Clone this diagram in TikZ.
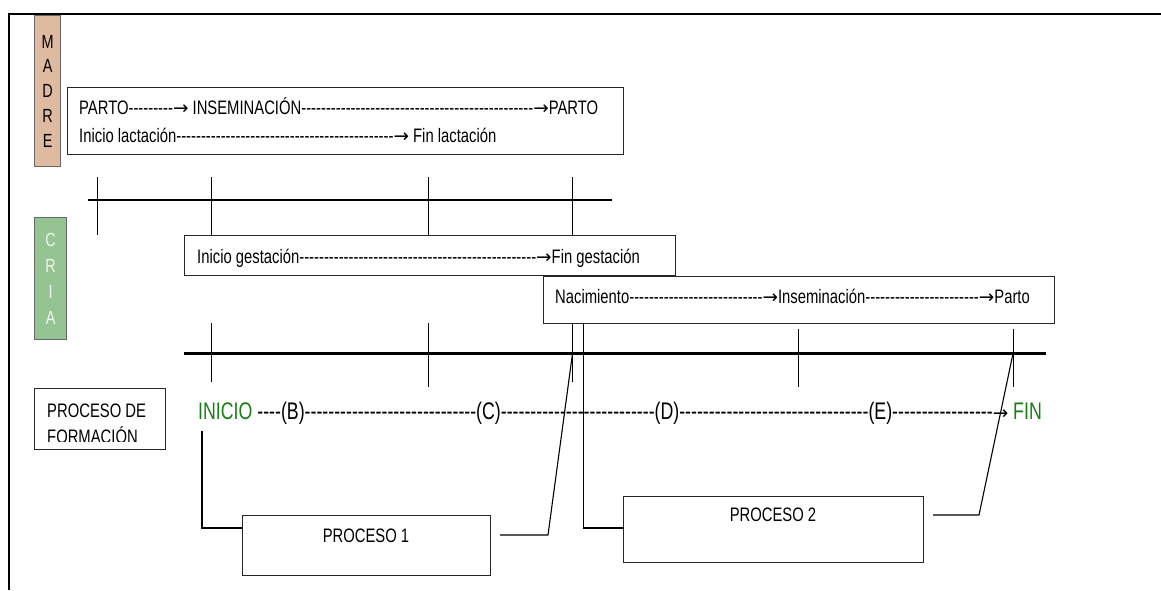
\documentclass[tikz,border=0pt]{standalone}
\usepackage{fontspec}
\setmainfont{Liberation Sans}[FakeStretch=0.76, Ligatures=TeXOff]
\newfontfamily\procfont{Liberation Sans}[FakeStretch=0.74, Ligatures=TeXOff]
\newfontfamily\arrowfont{DejaVu Sans}
\newcommand{\ra}{{\arrowfont\fontsize{18.5pt}{22pt}\selectfont →}}
\definecolor{madrebrown}{RGB}{222,186,160}
\definecolor{criagreen}{RGB}{148,196,146}
\definecolor{markgreen}{RGB}{25,125,25}

\begin{document}
\begin{tikzpicture}[x=1pt,y=-1pt,
  txt/.style={anchor=base west, inner sep=0pt, font=\fontsize{19.5pt}{28pt}\selectfont},
  box/.style={draw=black!85, line width=1.1pt, anchor=north west, inner sep=0pt},
  bar/.style={draw=black!60, line width=1.2pt, anchor=north west, inner sep=0pt, align=center},
  timeline/.style={line width=2.6pt},
  tickmark/.style={line width=1pt},
  conn/.style={line width=1.1pt},
  frame/.style={line width=2.4pt}]
\useasboundingbox (0,0) rectangle (1161,590);

% outer frame (top and left edges)
\coordinate (fTL) at (9,14);
\coordinate (fTR) at (1161,14);
\coordinate (fBL) at (9,590);
\draw[frame] (fTR) -- (fTL) -- (fBL);

% side labels
\node[bar, fill=madrebrown, minimum width=26pt, minimum height=151pt,
      font=\fontsize{19pt}{24.75pt}\selectfont] (madre) at (34,15) {M\\A\\D\\R\\E};
\node[bar, fill=criagreen, text=black!5, minimum width=32pt, minimum height=122pt,
      font=\fontsize{19pt}{26pt}\selectfont] (cria) at (34,217) {C\\R\\I\\A};

% boxes
\node[box, minimum width=556pt, minimum height=67pt] (madrebox) at (67,87) {};
\node[box, minimum width=491pt, minimum height=40pt] (gest) at (184,235) {};
\node[box, minimum width=511pt, minimum height=47pt] (nac) at (543,276) {};
\node[box, minimum width=131pt, minimum height=61pt] (forma) at (34,388) {};
\node[box, minimum width=248pt, minimum height=60pt] (p1) at (242,515) {};
\node[box, minimum width=300pt, minimum height=66pt] (p2) at (623,496) {};

% texts of the boxes
\node[txt] (l1) at (79,114) {PARTO---------\ra{} INSEMINACIÓN-----------------------------------------------\ra PARTO};
\node[txt] (l2) at (79,142) {Inicio lactación--------------------------------------------\ra{} Fin lactación};
\node[txt] (g1) at (197,263) {Inicio gestación------------------------------------------------\ra Fin gestación};
\node[txt] (n1) at (555,303) {Nacimiento---------------------------\ra Inseminación-----------------------\ra Parto};
\node[txt, font=\procfont\fontsize{24pt}{28pt}\selectfont] (tl) at (198,419)
  {\textcolor{markgreen}{INICIO} ----(B)-----------------------------(C)--------------------------(D)--------------------------------(E)-----------------\ra{} \textcolor{markgreen}{FIN}};
\node[txt, anchor=base] (p1txt) at (366,542) {PROCESO 1};
\node[txt, anchor=base] (p2txt) at (773,521.5) {PROCESO 2};
\begin{scope}
  \clip (34,388) rectangle (165,441.5);
  \node[txt] (f1) at (47,417) {PROCESO DE};
  \node[txt] (f2) at (47,443) {FORMACIÓN};
\end{scope}

% time lines
\coordinate (ma) at (88,200);
\coordinate (mb) at (612,200);
\draw[timeline] (ma) -- (mb);
\coordinate (ca) at (184,353.5);
\coordinate (cb) at (1046,353.5);
\draw[timeline] (ca) -- (cb);

% tick marks
\foreach \x/\n in {97/1,211/2,428/3,572/4}
  \draw[tickmark] (\x,177) coordinate (mt\n) -- (\x,235) coordinate (mb\n);
\foreach \x/\n/\t/\b in {211/1/323/382, 428/2/323/386.5, 572.5/3/323/382, 798/4/329/386.5, 1013/5/329/386.5}
  \draw[tickmark] (\x,\t) coordinate (ct\n) -- (\x,\b) coordinate (cb\n);

% connectors to the process boxes
\coordinate (inicioDrop) at (202,431);
\coordinate (p1in) at (242,528);
\draw[conn] (inicioDrop) |- (p1in);
\coordinate (p1out) at (500,535);
\coordinate (p1bend) at (548,535);
\coordinate (xBirth) at (572.5,353.5);
\draw[conn] (p1out) -- (p1bend) -- (xBirth);
\coordinate (nacDrop) at (583.5,323);
\coordinate (p2in) at (623,528);
\draw[conn] (nacDrop) |- (p2in);
\coordinate (p2out) at (933,515);
\coordinate (p2bend) at (979,515);
\coordinate (xEnd) at (1013,353.5);
\draw[conn] (p2out) -- (p2bend) -- (xEnd);
\end{tikzpicture}
\end{document}
